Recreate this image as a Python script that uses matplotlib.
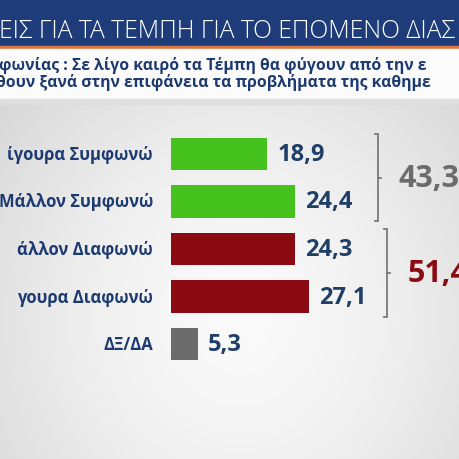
import numpy as np
import matplotlib
matplotlib.use("Agg")
import matplotlib.pyplot as plt
from matplotlib.patches import Rectangle

plt.rcParams['font.family'] = ['Open Sans', 'DejaVu Sans']

# data (cropped TV poll graphic)
title = "ΕΙΣ ΓΙΑ ΤΑ ΤΕΜΠΗ ΓΙΑ ΤΟ ΕΠΟΜΕΝΟ ΔΙΑΣ"
subtitle_1 = "φωνίας : Σε λίγο καιρό τα Τέμπη θα φύγουν από την ε"
subtitle_2 = "θουν ξανά στην επιφάνεια τα προβλήματα της καθημε"
labels = ["ίγουρα Συμφωνώ", "Μάλλον Συμφωνώ", "άλλον Διαφωνώ", "γουρα Διαφωνώ", "ΔΞ/ΔΑ"]
values = [18.9, 24.4, 24.3, 27.1, 5.3]
colors = ["#46c21e", "#46c21e", "#8c0b12", "#8c0b12", "#6b6b6b"]
groups = [(0, 1, "#6b6b6b"), (2, 3, "#8c0b12")]

W, H = 460, 460
fig = plt.figure(figsize=(4.6, 4.6), dpi=100)

# background
bg = fig.add_axes([0, 0, 1, 1])
bg.set_xlim(0, W)
bg.set_ylim(H, 0)
bg.axis("off")
yy, xx = np.mgrid[0:H, 0:W]
r = np.sqrt(((xx - 240) / 300.0) ** 2 + ((yy - 320) / 330.0) ** 2)
shade = np.clip(0.98 - 0.13 * r ** 1.6, 0.84, 0.98)
bg.imshow(np.dstack([shade] * 3), extent=[0, W, H, 0], aspect="auto")
bg.add_patch(Rectangle((0, 0), W, 47, color="#1d3c79"))
bg.add_patch(Rectangle((0, 47), W, 2.5, color="#d9773f"))
bg.add_patch(Rectangle((0, 49.5), W, 50, color="#fbfbfb"))
bg.add_patch(Rectangle((0, 99.5), W, 5, color="#dedede"))
bg.text(-1, 32, title, color="white", fontsize=17.8, fontweight="light",
        va="center", ha="left")
bg.text(-1, 66, subtitle_1, color="#1d3a70", fontsize=11.3, fontweight="bold",
        va="center", ha="left")
bg.text(-4, 82.5, subtitle_2, color="#1d3a70", fontsize=11.3, fontweight="bold",
        va="center", ha="left")

# bars
px_per_unit = 5.1
left_px, top_px, slot_px = 171, 131, 47.6
ax = fig.add_axes([left_px / W, 1 - (top_px + 5 * slot_px) / H,
                   (W - left_px) / W, 5 * slot_px / H])
ax.set_xlim(0, (W - left_px) / px_per_unit)
ax.set_ylim(4.5, -0.5)
ax.axis("off")
ax.patch.set_alpha(0)

ypos = np.arange(len(values))
ax.barh(ypos, values, height=0.68, color=colors, edgecolor="none")
for y, v, lab in zip(ypos, values, labels):
    ax.annotate(f"{v:.1f}".replace(".", ","), (v, y), xytext=(7, 0),
                textcoords="offset points", va="center", ha="left",
                fontsize=17, fontweight="bold", color="#1f3f67")
    ax.annotate(lab, (0, y), xytext=(-13, 0), textcoords="offset points",
                va="center", ha="right", fontsize=12, fontweight="bold",
                color="#1d3a70")

# brackets with totals
bx = [(378 - left_px) / px_per_unit, (387 - left_px) / px_per_unit]
for (a, b, col), x in zip(groups, bx):
    y0, y1 = a - 0.42, b + 0.42
    ym = (a + b) / 2
    hook = 0.6
    ax.plot([x - hook, x, x, x - hook], [y0, y0, y1, y1], color="#7a7a7a",
            lw=1.3, solid_joinstyle="miter")
    ax.plot([x, x + hook], [ym, ym], color="#7a7a7a", lw=1.3)
    total = sum(values[a:b + 1])
    ax.annotate(f"{total:.1f}".replace(".", ","), (x, ym), xytext=(15, 0),
                textcoords="offset points", va="center", ha="left",
                fontsize=22, fontweight="bold", color=col)

fig.savefig("out.png", dpi=100)
